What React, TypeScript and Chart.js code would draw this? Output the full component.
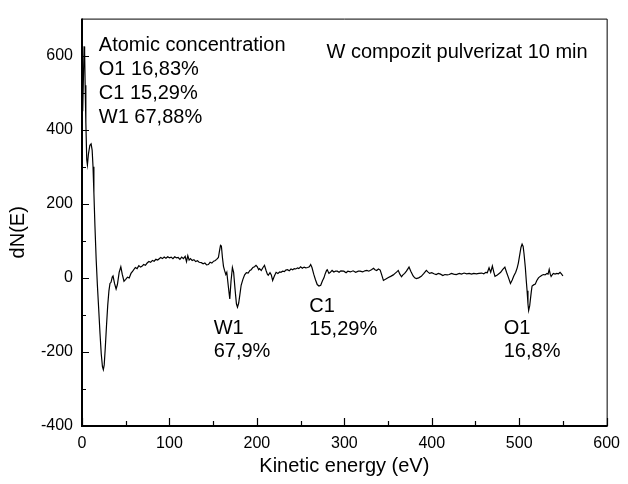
import React, { useEffect, useRef } from "react";
import { Chart, registerables } from "chart.js";

Chart.register(...registerables);

// Kinetic energy (eV)
const energies = [
  0.8, 1.8, 2.4, 3.0, 3.6, 4.4, 5.4, 6.2, 7.4, 9.0, 10.4, 11.6, 12.6, 13.6, 14.8, 16.2, 17.6, 19.0, 20.6, 22.0,
  23.4, 24.4, 25.4, 26.6, 28.0, 29.4, 30.8, 32.0, 33.2, 34.6, 35.5, 37.2, 39.0, 40.5, 42.5, 44.4, 46.0, 48.0, 50.0, 52.0,
  54.0, 56.0, 58.0, 61.0, 63.0, 65.0, 67.0, 68.5, 70.5, 72.5, 74.5, 76.5, 78.5, 80.5, 82.5, 84.5, 86.5, 88.0, 90.0, 92.0,
  94.0, 96.0, 98.0, 100.0, 102.0, 104.0, 106.0, 108.0, 110.0, 112.0, 114.0, 116.0, 118.0, 119.5, 121.0, 122.5, 124.0, 126.0, 128.0, 130.0,
  132.0, 134.0, 136.5, 138.5, 140.5, 142.5, 144.5, 146.5, 148.5, 150.5, 152.0, 154.0, 156.0, 157.4, 158.4, 159.4, 160.6, 161.8, 163.0, 164.5,
  165.6, 167.2, 169.0, 170.4, 172.0, 173.4, 175.0, 176.6, 177.8, 179.2, 180.4, 182.0, 184.0, 186.0, 188.0, 190.0, 192.0, 193.5, 195.5, 197.3,
  199.0, 200.5, 202.0, 203.0, 205.0, 207.0, 208.7, 210.5, 212.0, 213.0, 215.0, 216.5, 218.0, 220.0, 222.0, 224.0, 226.0, 227.5, 229.5, 231.5,
  233.0, 235.0, 237.0, 239.0, 241.0, 242.7, 244.5, 246.5, 248.0, 250.0, 252.0, 254.0, 256.0, 258.0, 260.0, 261.5, 263.0, 265.0, 267.0, 269.0,
  271.0, 273.0, 275.0, 276.7, 278.0, 279.7, 280.5, 282.4, 284.0, 286.0, 288.0, 290.0, 292.0, 294.0, 296.0, 299.4, 302.0, 304.0, 307.0, 310.0,
  313.0, 316.0, 318.0, 321.0, 323.5, 325.8, 328.0, 331.0, 333.4, 335.0, 337.0, 339.0, 341.0, 342.5, 344.7, 347.0, 350.4, 353.0, 356.0, 358.0,
  360.0, 361.7, 363.5, 365.4, 367.0, 369.0, 371.0, 374.0, 376.0, 378.7, 380.5, 382.4, 385.0, 388.0, 391.0, 393.8, 395.5, 397.5, 400.0, 402.5,
  405.0, 407.5, 410.0, 412.7, 415.0, 417.5, 420.0, 422.5, 425.0, 428.0, 431.5, 434.0, 437.0, 440.0, 442.8, 445.5, 448.0, 451.0, 454.0, 457.0,
  459.5, 461.8, 463.5, 465.5, 467.4, 469.3, 471.0, 472.3, 475.0, 478.8, 481.0, 483.6, 485.5, 487.5, 490.0, 492.0, 493.8, 496.0, 497.7, 499.0,
  500.3, 502.0, 503.3, 504.5, 505.5, 507.0, 508.0, 509.0, 510.0, 510.8, 512.0, 512.7, 513.8, 514.7, 516.5, 518.4, 520.0, 522.0, 524.0, 526.0,
  527.7, 529.5, 531.7, 533.0, 534.3, 535.5, 536.5, 538.0, 539.0, 541.0, 543.0, 545.0, 546.7, 548.5, 550.0,
];

// dN(E) signal
const dNValues = [
  450, 560, 625, 610, 520, 420, 320, 305, 335, 358, 362, 345, 300, 230, 140, 50, -20, -80, -150, -205,
  -240, -248, -235, -190, -130, -75, -35, -15, -12, 2, 5, -15, -30, -18, 15, 30, 10, -9, -4, 2,
  0, 12, 18, 28, 25, 33, 29, 31, 36, 34, 40, 44, 42, 47, 45, 50, 48, 51, 55, 52,
  56, 53, 57, 54, 56, 52, 57, 54, 55, 50, 56, 52, 58, 44, 60, 48, 52, 47, 49, 44,
  46, 42, 41, 38, 40, 35, 36, 42, 40, 45, 46, 50, 55, 75, 88, 86, 55, 31, 20, 9,
  15, -20, -57, -10, 28, 15, -30, -70, -79, -68, -48, -20, -4, 8, 14, 13, 20, 22, 28, 30,
  34, 30, 22, 25, 20, 28, 34, 20, 10, 7, 14, 8, -7, 5, 15, 12, 16, 15, 18, 17,
  21, 22, 19, 24, 22, 25, 24, 27, 25, 30, 26, 29, 27, 28, 30, 36, 28, 10, -5, -18,
  -22, -20, -8, 0, 10, 20, 22, 12, 15, 20, 16, 18, 18, 15, 19, 18, 14, 18, 16, 19,
  15, 18, 18, 16, 19, 20, 18, 22, 26, 22, 20, 24, 21, 10, -7, -4, 1, 4, 8, 12,
  16, 20, 10, 3, 8, 12, 18, 29, 18, 5, 0, -2, 0, 4, 12, 20, 16, 12, 14, 11,
  9, 12, 10, 6, 9, 8, 9, 12, 10, 9, 12, 10, 13, 11, 12, 10, 12, 11, 12, 13,
  11, 15, 14, 27, 15, 32, 15, 4, 8, 15, 22, 29, 15, 2, -15, -6, 5, 15, 27, 40,
  58, 82, 91, 85, 65, 28, -5, -35, -70, -88, -75, -60, -38, -22, -19, -17, -8, 0, 4, 7,
  9, 8, 12, 10, 23, 10, 4, 9, 12, 10, 12, 11, 15, 10, 5,
];

const xTickValues = [0, 100, 200, 300, 400, 500, 600];
const xMinorTickValues = [50, 150, 250, 350, 450, 550];
const yTickValues = [-400, -200, 0, 200, 400, 600];
const yMinorTickValues = [-300, -100, 100, 300, 500];

const xTitle = "Kinetic energy (eV)";
const yTitle = "dN(E)";

// Text notes placed in data coordinates (energy, dN)
const noteTexts = [
  "Atomic concentration",
  "O1 16,83%",
  "C1 15,29%",
  "W1 67,88%",
  "W compozit pulverizat 10 min",
  "W1",
  "67,9%",
  "C1",
  "15,29%",
  "O1",
  "16,8%",
];
const noteEnergies = [19.2, 19.2, 19.2, 19.2, 279.6, 150.6, 150.6, 260, 260, 482.3, 482.3];
const noteValues = [613, 547, 482, 417, 594, -151, -215, -93, -154, -151, -215];

const FONT = "'Liberation Sans', Arial, Helvetica, sans-serif";

const decorPlugin = {
  id: "decor",
  afterDraw(chart: any) {
    const { ctx, chartArea: a } = chart;
    const xs = chart.scales.x;
    const ys = chart.scales.y;
    ctx.save();
    ctx.strokeStyle = "#000";
    ctx.fillStyle = "#000";

    // tick marks (inward)
    ctx.lineWidth = 1.2;
    ctx.beginPath();
    xTickValues.forEach((v) => {
      const p = Math.round(xs.getPixelForValue(v)) + 0.5;
      ctx.moveTo(p, a.bottom);
      ctx.lineTo(p, a.bottom - 8);
    });
    xMinorTickValues.forEach((v) => {
      const p = Math.round(xs.getPixelForValue(v)) + 0.5;
      ctx.moveTo(p, a.bottom);
      ctx.lineTo(p, a.bottom - 5);
    });
    yTickValues.forEach((v) => {
      const p = Math.round(ys.getPixelForValue(v)) + 0.5;
      ctx.moveTo(a.left, p);
      ctx.lineTo(a.left + 7, p);
    });
    yMinorTickValues.forEach((v) => {
      const p = Math.round(ys.getPixelForValue(v)) + 0.5;
      ctx.moveTo(a.left, p);
      ctx.lineTo(a.left + 4, p);
    });
    ctx.stroke();

    // frame
    ctx.lineWidth = 1;
    ctx.beginPath();
    ctx.moveTo(a.left, a.top + 0.5);
    ctx.lineTo(a.right + 0.5, a.top + 0.5);
    ctx.lineTo(a.right + 0.5, a.bottom);
    ctx.stroke();
    ctx.lineWidth = 2;
    ctx.beginPath();
    ctx.moveTo(a.left, a.top);
    ctx.lineTo(a.left, a.bottom);
    ctx.lineTo(a.right + 1, a.bottom);
    ctx.stroke();

    // notes
    ctx.font = `20px ${FONT}`;
    ctx.textAlign = "left";
    ctx.textBaseline = "alphabetic";
    noteTexts.forEach((t, i) => {
      ctx.fillText(t, xs.getPixelForValue(noteEnergies[i]), ys.getPixelForValue(noteValues[i]));
    });

    // y axis title
    ctx.save();
    ctx.translate(18, (a.top + a.bottom) / 2 + 10);
    ctx.rotate(-Math.PI / 2);
    ctx.textAlign = "center";
    ctx.textBaseline = "middle";
    ctx.fillText(yTitle, 0, 0);
    ctx.restore();

    ctx.restore();
  },
};

export default function App() {
  const canvasRef = useRef<HTMLCanvasElement | null>(null);

  useEffect(() => {
    if (!canvasRef.current) return;
    const chart = new Chart(canvasRef.current, {
      type: "line",
      data: {
        datasets: [
          {
            data: energies.map((e, i) => ({ x: e, y: dNValues[i] })),
            borderColor: "#000",
            borderWidth: 1.2,
            pointRadius: 0,
            tension: 0,
            fill: false,
          },
        ],
      },
      options: {
        animation: false,
        responsive: false,
        devicePixelRatio: 1,
        layout: { padding: { left: 0, right: 16, top: 10, bottom: 0 } },
        plugins: {
          legend: { display: false },
          tooltip: { enabled: false },
        },
        scales: {
          x: {
            type: "linear",
            min: 0,
            max: 600,
            grid: { display: false, drawTicks: false },
            border: { display: false },
            ticks: {
              color: "#000",
              padding: 8,
              maxRotation: 0,
              font: { family: FONT, size: 16 },
            },
            afterBuildTicks: (s: any) => {
              s.ticks = xTickValues.map((v) => ({ value: v }));
            },
            afterFit: (s: any) => {
              s.height = 58;
            },
            title: {
              display: true,
              text: xTitle,
              color: "#000",
              font: { family: FONT, size: 20 },
              padding: { top: 0, bottom: 6 },
            },
          },
          y: {
            type: "linear",
            min: -400,
            max: 700,
            grid: { display: false, drawTicks: false },
            border: { display: false },
            ticks: {
              color: "#000",
              padding: 9,
              font: { family: FONT, size: 16 },
            },
            afterBuildTicks: (s: any) => {
              s.ticks = yTickValues.map((v) => ({ value: v }));
            },
            afterFit: (s: any) => {
              s.width = 82;
            },
          },
        },
      },
      plugins: [decorPlugin],
    });
    return () => chart.destroy();
  }, []);

  return (
    <div style={{ position: "fixed", left: 0, top: 0, width: 628, height: 484, background: "#fff" }}>
      <canvas ref={canvasRef} width={628} height={484} style={{ display: "block" }} />
    </div>
  );
}
